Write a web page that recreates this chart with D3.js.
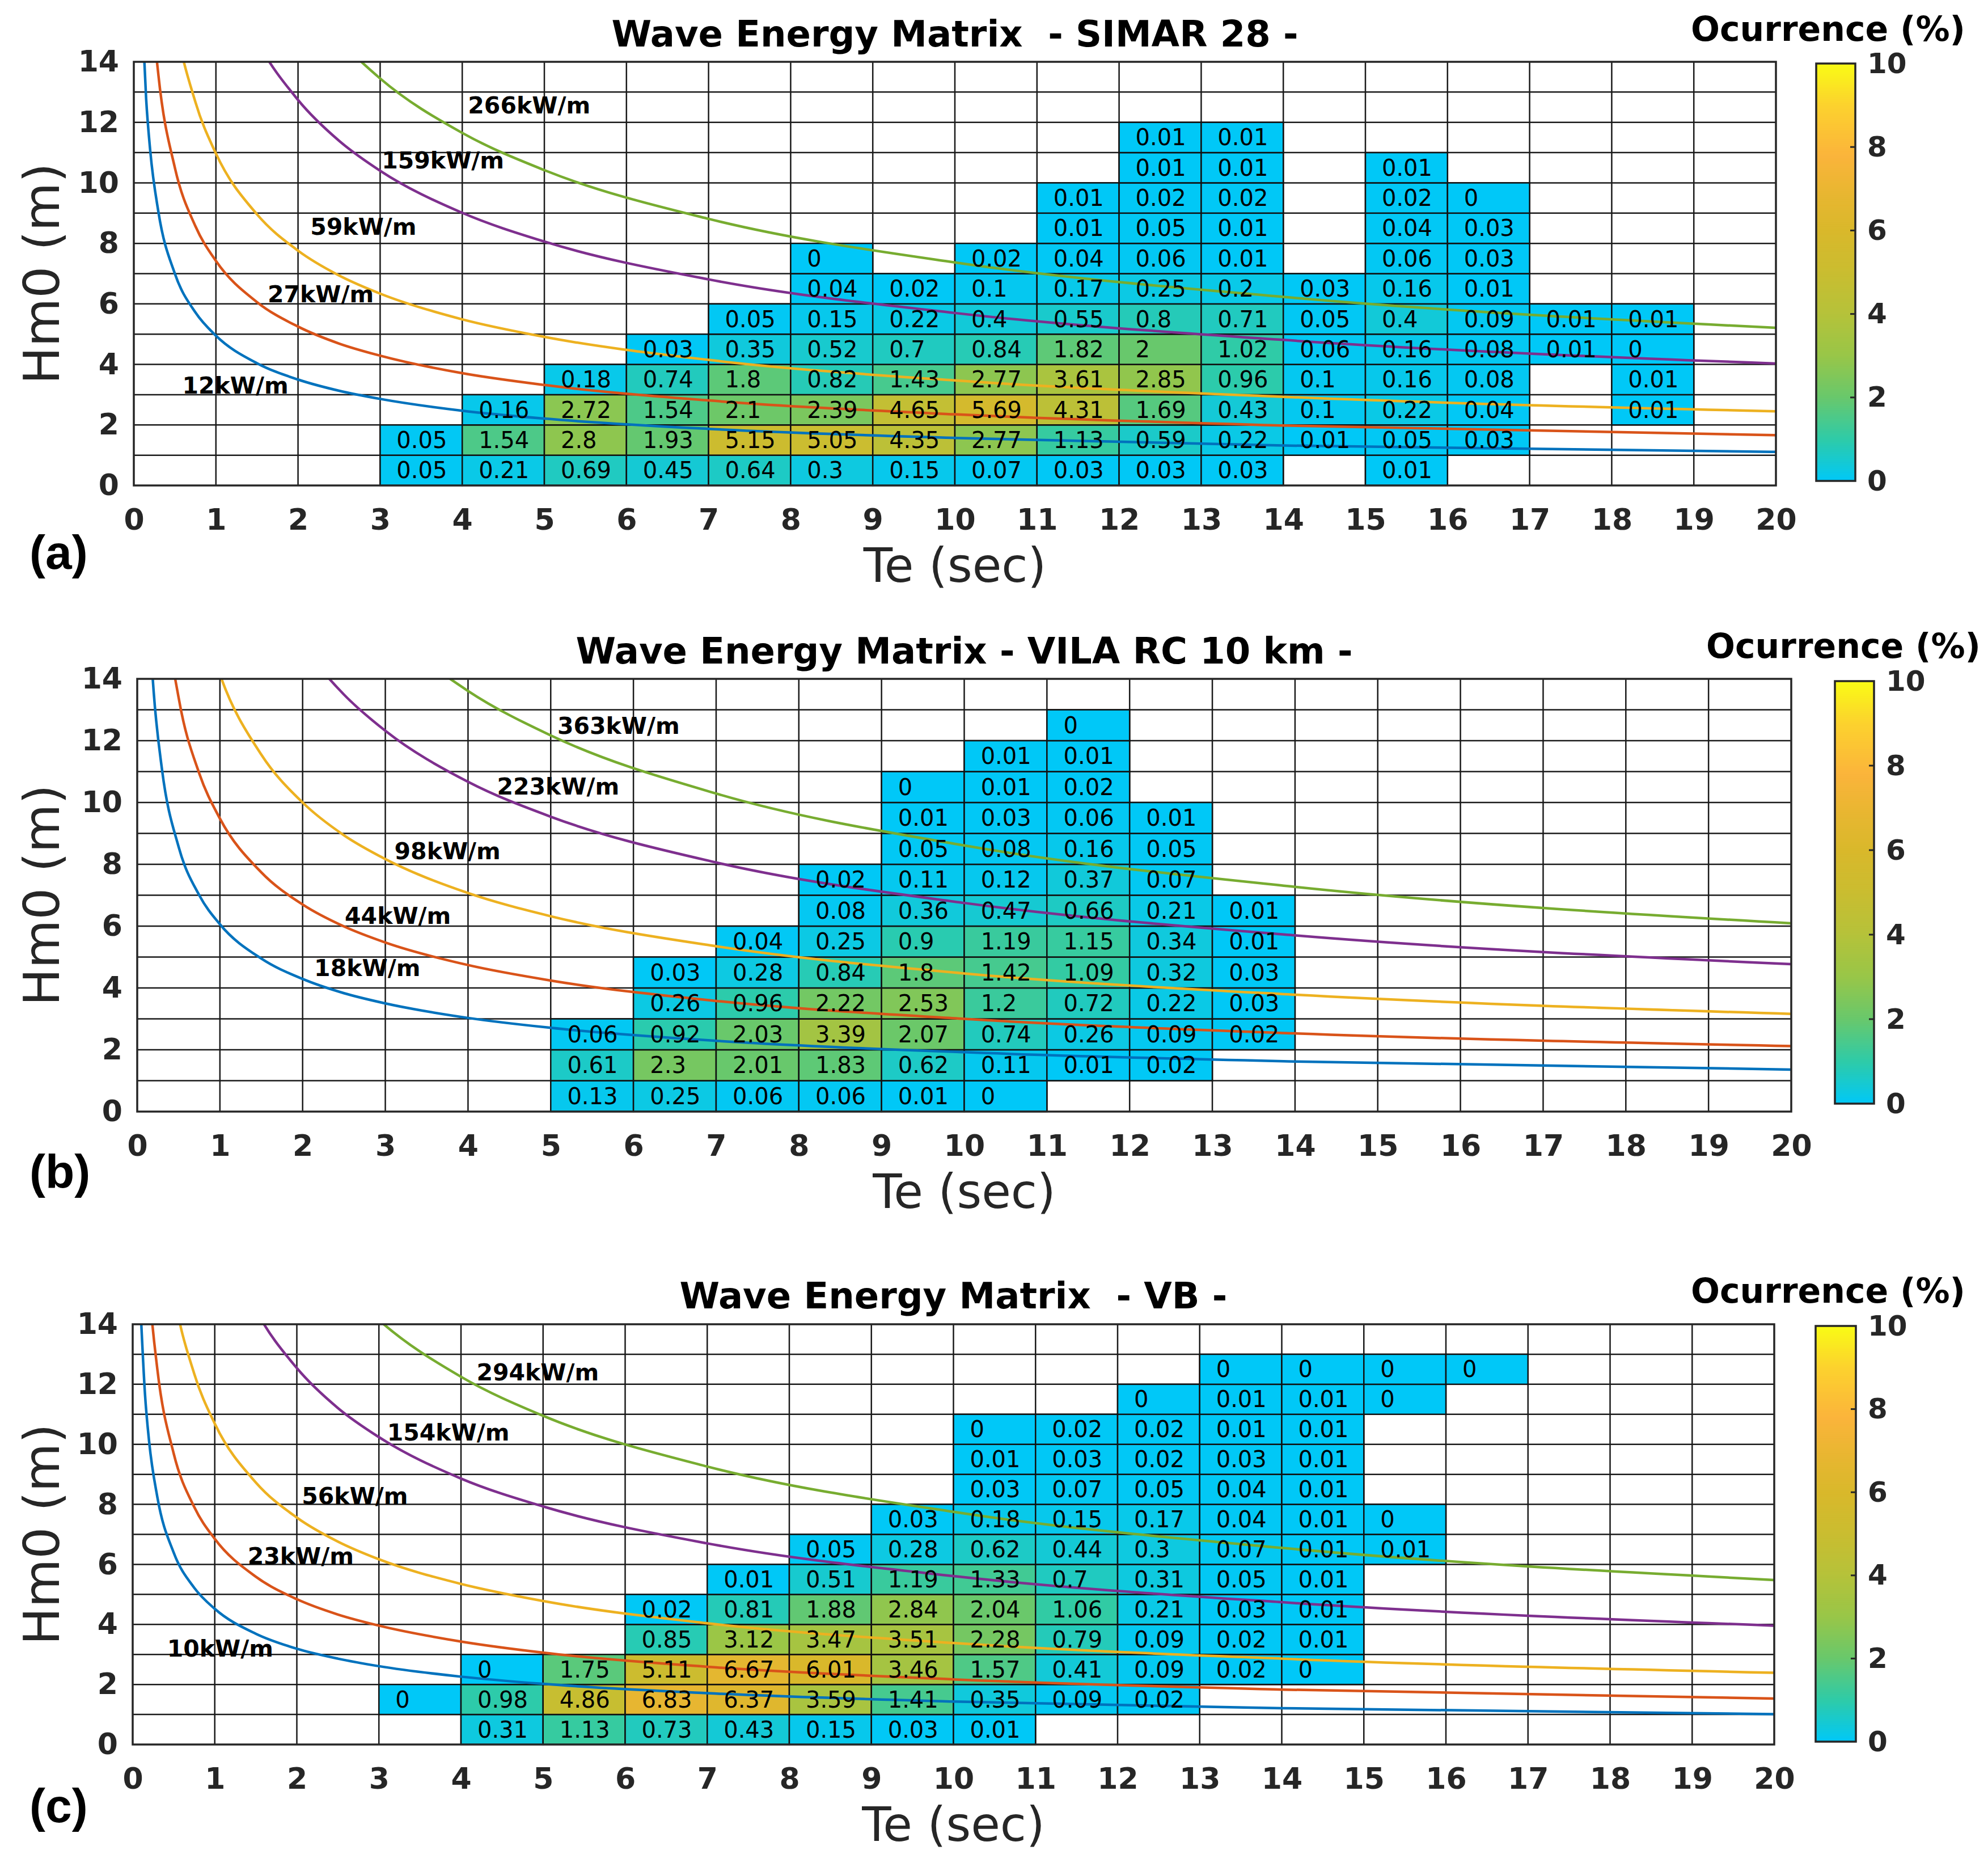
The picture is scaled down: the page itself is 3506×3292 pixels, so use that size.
<!DOCTYPE html>
<html>
<head>
<meta charset="utf-8">
<script src="https://cdn.jsdelivr.net/npm/d3@7"></script>
<style>
  body { margin: 0; background: #fff; }
  text { font-family: "DejaVu Sans", sans-serif; }
</style>
</head>
<body>
<div id="fig"></div>
<script>
// ---- values ----
// each matrix row = one Hm0 bin (row index = lower edge, m): [first Te bin, occurrences...]
const simarRows = [
  [3, [0.05, 0.21, 0.69, 0.45, 0.64, 0.3, 0.15, 0.07, 0.03, 0.03, 0.03, null, 0.01]],
  [3, [0.05, 1.54, 2.8, 1.93, 5.15, 5.05, 4.35, 2.77, 1.13, 0.59, 0.22, 0.01, 0.05, 0.03]],
  [4, [0.16, 2.72, 1.54, 2.1, 2.39, 4.65, 5.69, 4.31, 1.69, 0.43, 0.1, 0.22, 0.04, null, 0.01]],
  [5, [0.18, 0.74, 1.8, 0.82, 1.43, 2.77, 3.61, 2.85, 0.96, 0.1, 0.16, 0.08, null, 0.01]],
  [6, [0.03, 0.35, 0.52, 0.7, 0.84, 1.82, 2, 1.02, 0.06, 0.16, 0.08, 0.01, 0]],
  [7, [0.05, 0.15, 0.22, 0.4, 0.55, 0.8, 0.71, 0.05, 0.4, 0.09, 0.01, 0.01]],
  [8, [0.04, 0.02, 0.1, 0.17, 0.25, 0.2, 0.03, 0.16, 0.01]],
  [8, [0, null, 0.02, 0.04, 0.06, 0.01, null, 0.06, 0.03]],
  [11, [0.01, 0.05, 0.01, null, 0.04, 0.03]],
  [11, [0.01, 0.02, 0.02, null, 0.02, 0]],
  [12, [0.01, 0.01, null, 0.01]],
  [12, [0.01, 0.01]]
];

const vilaRows = [
  [5, [0.13, 0.25, 0.06, 0.06, 0.01, 0]],
  [5, [0.61, 2.3, 2.01, 1.83, 0.62, 0.11, 0.01, 0.02]],
  [5, [0.06, 0.92, 2.03, 3.39, 2.07, 0.74, 0.26, 0.09, 0.02]],
  [6, [0.26, 0.96, 2.22, 2.53, 1.2, 0.72, 0.22, 0.03]],
  [6, [0.03, 0.28, 0.84, 1.8, 1.42, 1.09, 0.32, 0.03]],
  [7, [0.04, 0.25, 0.9, 1.19, 1.15, 0.34, 0.01]],
  [8, [0.08, 0.36, 0.47, 0.66, 0.21, 0.01]],
  [8, [0.02, 0.11, 0.12, 0.37, 0.07]],
  [9, [0.05, 0.08, 0.16, 0.05]],
  [9, [0.01, 0.03, 0.06, 0.01]],
  [9, [0, 0.01, 0.02]],
  [10, [0.01, 0.01]],
  [11, [0]]
];

const vbRows = [
  [4, [0.31, 1.13, 0.73, 0.43, 0.15, 0.03, 0.01]],
  [3, [0, 0.98, 4.86, 6.83, 6.37, 3.59, 1.41, 0.35, 0.09, 0.02]],
  [4, [0, 1.75, 5.11, 6.67, 6.01, 3.46, 1.57, 0.41, 0.09, 0.02, 0]],
  [6, [0.85, 3.12, 3.47, 3.51, 2.28, 0.79, 0.09, 0.02, 0.01]],
  [6, [0.02, 0.81, 1.88, 2.84, 2.04, 1.06, 0.21, 0.03, 0.01]],
  [7, [0.01, 0.51, 1.19, 1.33, 0.7, 0.31, 0.05, 0.01]],
  [8, [0.05, 0.28, 0.62, 0.44, 0.3, 0.07, 0.01, 0.01]],
  [9, [0.03, 0.18, 0.15, 0.17, 0.04, 0.01, 0]],
  [10, [0.03, 0.07, 0.05, 0.04, 0.01]],
  [10, [0.01, 0.03, 0.02, 0.03, 0.01]],
  [10, [0, 0.02, 0.02, 0.01, 0.01]],
  [12, [0, 0.01, 0.01, 0]],
  [13, [0, 0, 0, 0]]
];

// iso-power lines: Hm0 (m) read along Te (s)
const curveTe = [0.1, 0.15, 0.2, 0.3, 0.5, 0.75, 1, 1.5, 2, 2.5, 3, 4, 5, 7, 10, 14, 20];

const simarPower = [12, 27, 59, 159, 266];
const simarCurves = [
  [15.65, 12.78, 11.06, 9.03, 7.00, 5.72, 4.95, 4.04, 3.50, 3.13, 2.86, 2.47, 2.21, 1.87, 1.57, 1.32, 1.11],
  [23.48, 19.17, 16.60, 13.55, 10.50, 8.57, 7.42, 6.06, 5.25, 4.69, 4.29, 3.71, 3.32, 2.81, 2.35, 1.98, 1.66],
  [34.70, 28.34, 24.53, 20.03, 15.52, 12.67, 10.97, 8.96, 7.76, 6.94, 6.34, 5.49, 4.91, 4.15, 3.47, 2.93, 2.45],
  [56.97, 46.52, 40.27, 32.89, 25.47, 20.81, 18.01, 14.71, 12.74, 11.39, 10.40, 9.01, 8.06, 6.81, 5.70, 4.81, 4.03],
  [73.69, 60.17, 52.09, 42.54, 32.95, 26.91, 23.30, 19.03, 16.48, 14.74, 13.45, 11.65, 10.42, 8.81, 7.37, 6.23, 5.21]
];
const simarLabelAt = [[0.59, 3.3], [1.63, 6.31], [2.15, 8.55], [3.02, 10.74], [4.07, 12.56]];

const vilaPower = [18, 44, 98, 223, 363];
const vilaCurves = [
  [19.17, 15.65, 13.55, 11.06, 8.57, 7.00, 6.06, 4.95, 4.29, 3.83, 3.50, 3.03, 2.71, 2.29, 1.92, 1.62, 1.36],
  [29.97, 24.47, 21.19, 17.30, 13.40, 10.94, 9.48, 7.74, 6.70, 5.99, 5.47, 4.74, 4.24, 3.58, 3.00, 2.53, 2.12],
  [44.73, 36.52, 31.62, 25.82, 20.00, 16.33, 14.14, 11.55, 10.00, 8.94, 8.17, 7.07, 6.32, 5.35, 4.47, 3.78, 3.16],
  [67.47, 55.09, 47.70, 38.95, 30.17, 24.64, 21.33, 17.42, 15.09, 13.49, 12.32, 10.67, 9.54, 8.06, 6.75, 5.70, 4.77],
  [86.08, 70.28, 60.85, 49.69, 38.49, 31.44, 27.22, 22.23, 19.25, 17.21, 15.71, 13.61, 12.17, 10.29, 8.61, 7.27, 6.09]
];
const vilaLabelAt = [[2.14, 4.64], [2.51, 6.33], [3.11, 8.42], [4.35, 10.52], [5.08, 12.48]];

const vbPower = [10, 23, 56, 154, 294];
const vbCurves = [
  [14.29, 11.67, 10.10, 8.25, 6.39, 5.22, 4.52, 3.69, 3.19, 2.86, 2.61, 2.26, 2.02, 1.71, 1.43, 1.21, 1.01],
  [21.67, 17.69, 15.32, 12.51, 9.69, 7.91, 6.85, 5.59, 4.84, 4.33, 3.96, 3.43, 3.06, 2.59, 2.17, 1.83, 1.53],
  [33.81, 27.61, 23.90, 19.52, 15.12, 12.35, 10.69, 8.73, 7.56, 6.76, 6.17, 5.35, 4.78, 4.04, 3.38, 2.86, 2.39],
  [56.07, 45.78, 39.64, 32.36, 25.07, 20.48, 17.73, 14.48, 12.54, 11.21, 10.24, 8.86, 7.93, 6.70, 5.61, 4.74, 3.96],
  [77.47, 63.25, 54.77, 44.72, 34.64, 28.29, 24.50, 20.00, 17.32, 15.49, 14.14, 12.25, 10.95, 9.26, 7.75, 6.55, 5.48]
];
const vbLabelAt = [[0.42, 3.2], [1.40, 6.27], [2.06, 8.27], [3.10, 10.39], [4.19, 12.40]];

const teTicks = d3.range(0, 21);
const hmTicks = d3.range(0, 15, 2);
const occTicks = [0, 2, 4, 6, 8, 10];

// ---- styling ----
const W = 3506, H = 3292;
const lineColors = ["#0072bd", "#d95319", "#edb120", "#7e2f8e", "#77ac30"];
const occStops  = [0, 1, 2, 3, 4, 5, 6, 7, 7.8, 9, 10];
const occColors = ["#00c8f8", "#2ecba8", "#68c86c", "#98c648", "#b5c23a", "#cabd30",
                   "#d9b82b", "#eab632", "#fbb43b", "#fcd22e", "#f9fb15"];
const color = d3.scaleLinear().domain(occStops).range(occColors).clamp(true);
const axisGrey = "#262626";

const panels = [
  { rows: simarRows, power: simarPower, curves: simarCurves, labelAt: simarLabelAt,
    title: "Wave Energy Matrix  - SIMAR 28 -", tag: "(a)",
    left: 236, right: 3132, top: 109, bottom: 856,
    cb: { x: 3203, w: 69, top: 112, bottom: 848 },
    titleY: 82, occRight: 3466, occY: 72, tagY: 1003 },
  { rows: vilaRows, power: vilaPower, curves: vilaCurves, labelAt: vilaLabelAt,
    title: "Wave Energy Matrix - VILA RC 10 km -", tag: "(b)",
    left: 242, right: 3159, top: 1197, bottom: 1960,
    cb: { x: 3236, w: 69, top: 1201, bottom: 1946 },
    titleY: 1170, occRight: 3493, occY: 1160, tagY: 2095 },
  { rows: vbRows, power: vbPower, curves: vbCurves, labelAt: vbLabelAt,
    title: "Wave Energy Matrix  - VB -", tag: "(c)",
    left: 234, right: 3129, top: 2335, bottom: 3076,
    cb: { x: 3202, w: 71, top: 2338, bottom: 3071 },
    titleY: 2307, occRight: 3466, occY: 2297, tagY: 3213 }
];

const svg = d3.select("#fig").append("svg")
  .attr("width", W).attr("height", H)
  .attr("viewBox", `0 0 ${W} ${H}`);

svg.append("rect").attr("width", W).attr("height", H).attr("fill", "#fff");

panels.forEach((p, k) => drawPanel(p, k));

function drawPanel(p, k) {
  const x = d3.scaleLinear().domain([0, 20]).range([p.left, p.right]);
  const y = d3.scaleLinear().domain([0, 14]).range([p.bottom, p.top]);
  const g = svg.append("g");

  // flatten matrix rows into cells
  const cells = [];
  p.rows.forEach((r, i) => {
    r[1].forEach((v, j) => {
      if (v !== null) cells.push({ te: r[0] + j, hm: i, v: v });
    });
  });

  // grid
  g.append("g").selectAll("line")
    .data(d3.range(1, 20))
    .join("line")
    .attr("x1", d => x(d)).attr("x2", d => x(d))
    .attr("y1", y(0)).attr("y2", y(14))
    .attr("stroke", "#1a1a1a").attr("stroke-width", 2.5);
  g.append("g").selectAll("line")
    .data(d3.range(1, 14))
    .join("line")
    .attr("x1", x(0)).attr("x2", x(20))
    .attr("y1", d => y(d)).attr("y2", d => y(d))
    .attr("stroke", "#1a1a1a").attr("stroke-width", 2.5);

  // cells
  g.append("g").selectAll("rect")
    .data(cells)
    .join("rect")
    .attr("x", d => x(d.te))
    .attr("y", d => y(d.hm + 1))
    .attr("width", x(1) - x(0))
    .attr("height", y(0) - y(1))
    .attr("fill", d => color(d.v))
    .attr("stroke", "#111")
    .attr("stroke-width", 2.5);

  // iso-power curves
  const clipId = "clip" + k;
  svg.append("clipPath").attr("id", clipId)
    .append("rect")
    .attr("x", x(0)).attr("y", y(14))
    .attr("width", x(20) - x(0)).attr("height", y(0) - y(14));

  const line = d3.line()
    .x(d => x(d[0]))
    .y(d => y(d[1]))
    .curve(d3.curveMonotoneX);

  g.append("g").attr("clip-path", `url(#${clipId})`)
    .selectAll("path")
    .data(p.curves)
    .join("path")
    .attr("d", c => line(curveTe.map((t, i) => [t, c[i]])))
    .attr("fill", "none")
    .attr("stroke", (c, i) => lineColors[i])
    .attr("stroke-width", 4.5);

  // cell values
  g.append("g").selectAll("text")
    .data(cells)
    .join("text")
    .attr("x", d => x(d.te + 0.2))
    .attr("y", d => y(d.hm + 0.5))
    .attr("dominant-baseline", "central")
    .attr("font-size", 40)
    .attr("fill", "#000")
    .text(d => String(d.v));

  // curve labels
  g.append("g").selectAll("text")
    .data(p.power)
    .join("text")
    .attr("x", (d, i) => x(p.labelAt[i][0]))
    .attr("y", (d, i) => y(p.labelAt[i][1]))
    .attr("dominant-baseline", "central")
    .attr("font-size", 41)
    .attr("font-weight", "bold")
    .attr("fill", "#000")
    .text(d => d + "kW/m");

  // axes frame
  g.append("rect")
    .attr("x", x(0)).attr("y", y(14))
    .attr("width", x(20) - x(0)).attr("height", y(0) - y(14))
    .attr("fill", "none").attr("stroke", axisGrey).attr("stroke-width", 3.5);

  const xAxis = d3.axisBottom(x).tickValues(teTicks).tickSize(0).tickPadding(41);
  const yAxis = d3.axisLeft(y).tickValues(hmTicks).tickSize(0).tickPadding(26);

  [g.append("g").attr("transform", `translate(0,${p.bottom})`).call(xAxis),
   g.append("g").attr("transform", `translate(${p.left},0)`).call(yAxis)]
    .forEach(a => {
      a.select(".domain").remove();
      a.attr("font-size", 52).attr("font-weight", "bold").attr("color", axisGrey);
    });

  // axis titles
  g.append("text")
    .attr("x", (p.left + p.right) / 2)
    .attr("y", p.bottom + 170)
    .attr("text-anchor", "middle")
    .attr("font-size", 84)
    .attr("fill", axisGrey)
    .text("Te (sec)");

  g.append("text")
    .attr("transform", `translate(104,${(p.top + p.bottom) / 2}) rotate(-90)`)
    .attr("text-anchor", "middle")
    .attr("font-size", 88)
    .attr("fill", axisGrey)
    .text("Hm0 (m)");

  // title
  g.append("text")
    .attr("x", (p.left + p.right) / 2)
    .attr("y", p.titleY)
    .attr("text-anchor", "middle")
    .attr("font-size", 64)
    .attr("font-weight", "bold")
    .style("white-space", "pre")
    .attr("fill", "#000")
    .text(p.title);

  g.append("text")
    .attr("x", 52)
    .attr("y", p.tagY)
    .style("font-family", "'Liberation Sans', Arial, sans-serif")
    .attr("font-size", 84)
    .attr("font-weight", "bold")
    .attr("fill", "#000")
    .text(p.tag);

  // colorbar
  const cy = d3.scaleLinear().domain([0, 10]).range([p.cb.bottom, p.cb.top]);
  const steps = d3.range(0, 10, 0.05);
  g.append("g").selectAll("rect")
    .data(steps)
    .join("rect")
    .attr("x", p.cb.x)
    .attr("y", d => cy(d + 0.05) - 0.5)
    .attr("width", p.cb.w)
    .attr("height", cy(0) - cy(0.05) + 1)
    .attr("fill", d => color(d + 0.025));

  g.append("g").selectAll("line")
    .data([2, 4, 6, 8])
    .join("line")
    .attr("x1", p.cb.x + p.cb.w).attr("x2", p.cb.x + p.cb.w - 9)
    .attr("y1", d => cy(d)).attr("y2", d => cy(d))
    .attr("stroke", axisGrey).attr("stroke-width", 3);

  g.append("rect")
    .attr("x", p.cb.x).attr("y", p.cb.top)
    .attr("width", p.cb.w).attr("height", p.cb.bottom - p.cb.top)
    .attr("fill", "none").attr("stroke", axisGrey).attr("stroke-width", 3.5);

  const cAxis = d3.axisRight(cy).tickValues(occTicks).tickSize(0).tickPadding(21);
  const ca = g.append("g").attr("transform", `translate(${p.cb.x + p.cb.w},0)`).call(cAxis);
  ca.select(".domain").remove();
  ca.attr("font-size", 50).attr("font-weight", "bold").attr("color", axisGrey);

  g.append("text")
    .attr("x", p.occRight)
    .attr("y", p.occY)
    .attr("text-anchor", "end")
    .attr("font-size", 60)
    .attr("font-weight", "bold")
    .attr("fill", "#000")
    .text("Ocurrence (%)");
}
</script>
</body>
</html>
